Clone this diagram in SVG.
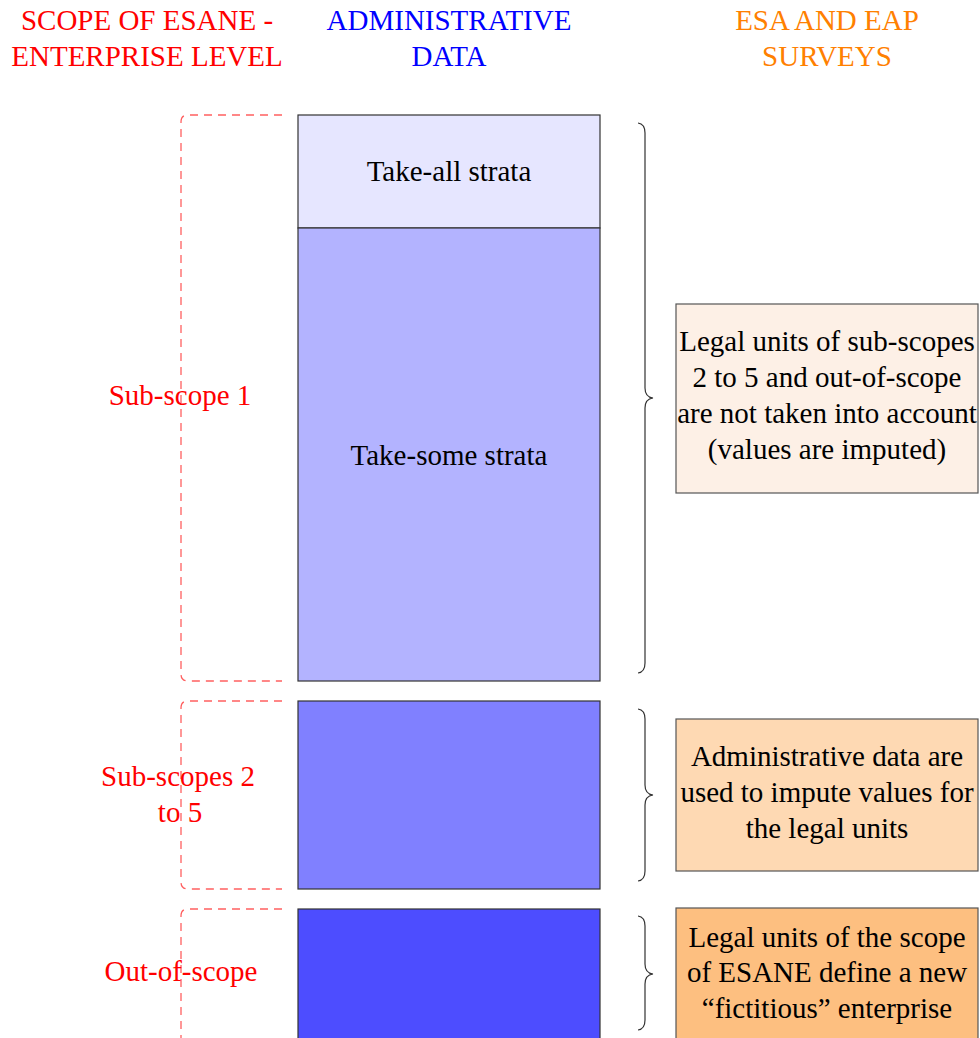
<svg xmlns="http://www.w3.org/2000/svg" width="980" height="1038" viewBox="0 0 980 1038">
<style>
text{font-family:"Liberation Serif","Times New Roman","DejaVu Serif",serif;font-size:29px;text-anchor:middle}
.red{fill:#ff0000}
.blue{fill:#0000ff}
.org{fill:#ff8000}
.blk{fill:#000}
.scope{fill:none;stroke:#ff6060;stroke-width:1.3;stroke-dasharray:8,6}
.brace{fill:none;stroke:#333;stroke-width:1.2}
.col{stroke:#333;stroke-width:1.2}
.box{stroke:#555;stroke-width:1.2}
</style>
<rect width="980" height="1038" fill="#fff"/>
<g id="headers">
<text class="red" x="147" y="30">SCOPE OF ESANE -</text>
<text class="red" x="147" y="66">ENTERPRISE LEVEL</text>
<text class="blue" x="449" y="30">ADMINISTRATIVE</text>
<text class="blue" x="449" y="66">DATA</text>
<text class="org" x="827" y="30">ESA AND EAP</text>
<text class="org" x="827" y="66">SURVEYS</text>
</g>
<g id="scope1">
<path class="scope" d="M282,115 L188,115 Q181,115 181,122 L181,674 Q181,681 188,681 L282,681"/>
<text class="red" x="180" y="405">Sub-scope 1</text>
</g>
<g id="scope2">
<path class="scope" d="M282,701 L188,701 Q181,701 181,708 L181,882 Q181,889 188,889 L282,889"/>
<text class="red" x="178" y="786">Sub-scopes 2</text>
<text class="red" x="180" y="822">to 5</text>
</g>
<g id="scope3">
<path class="scope" d="M282,909 L188,909 Q181,909 181,916 L181,1045"/>
<text class="red" x="181" y="981">Out-of-scope</text>
</g>
<g id="takeall">
<rect class="col" x="298" y="115" width="302" height="113" fill="#e6e6ff"/>
<text class="blk" x="449" y="181">Take-all strata</text>
</g>
<g id="takesome">
<rect class="col" x="298" y="228" width="302" height="453" fill="#b3b3ff"/>
<text class="blk" x="449" y="465">Take-some strata</text>
</g>
<g id="subscopes">
<rect class="col" x="298" y="701" width="302" height="188" fill="#8080ff"/>
</g>
<g id="outscope">
<rect class="col" x="298" y="909" width="302" height="140" fill="#4d4dff"/>
</g>
<g id="connectors">
<path class="brace" d="M638,123 Q645,124 645,133 L645,388 Q645,397 653,398 Q645,399 645,408 L645,663 Q645,672 638,673"/>
<path class="brace" d="M638,709 Q645,710 645,719 L645,785 Q645,794 653,795 Q645,796 645,805 L645,871 Q645,880 638,881"/>
<path class="brace" d="M638,916 Q645,917 645,926 L645,964 Q645,973 653,974 Q645,975 645,984 L645,1020 Q645,1029 638,1030"/>
</g>
<g id="note1">
<rect class="box" x="676" y="304" width="302" height="189" fill="#fdf0e6"/>
<text class="blk" x="827" y="351">Legal units of sub-scopes</text>
<text class="blk" x="827" y="387">2 to 5 and out-of-scope</text>
<text class="blk" x="827" y="423">are not taken into account</text>
<text class="blk" x="827" y="459">(values are imputed)</text>
</g>
<g id="note2">
<rect class="box" x="676" y="719" width="302" height="152" fill="#fed9b3"/>
<text class="blk" x="827" y="766">Administrative data are</text>
<text class="blk" x="827" y="802">used to impute values for</text>
<text class="blk" x="827" y="838">the legal units</text>
</g>
<g id="note3">
<rect class="box" x="676" y="908" width="302" height="140" fill="#fdbf80"/>
<text class="blk" x="827" y="947">Legal units of the scope</text>
<text class="blk" x="827" y="982">of ESANE define a new</text>
<text class="blk" x="827" y="1018">“fictitious” enterprise</text>
</g>
</svg>
